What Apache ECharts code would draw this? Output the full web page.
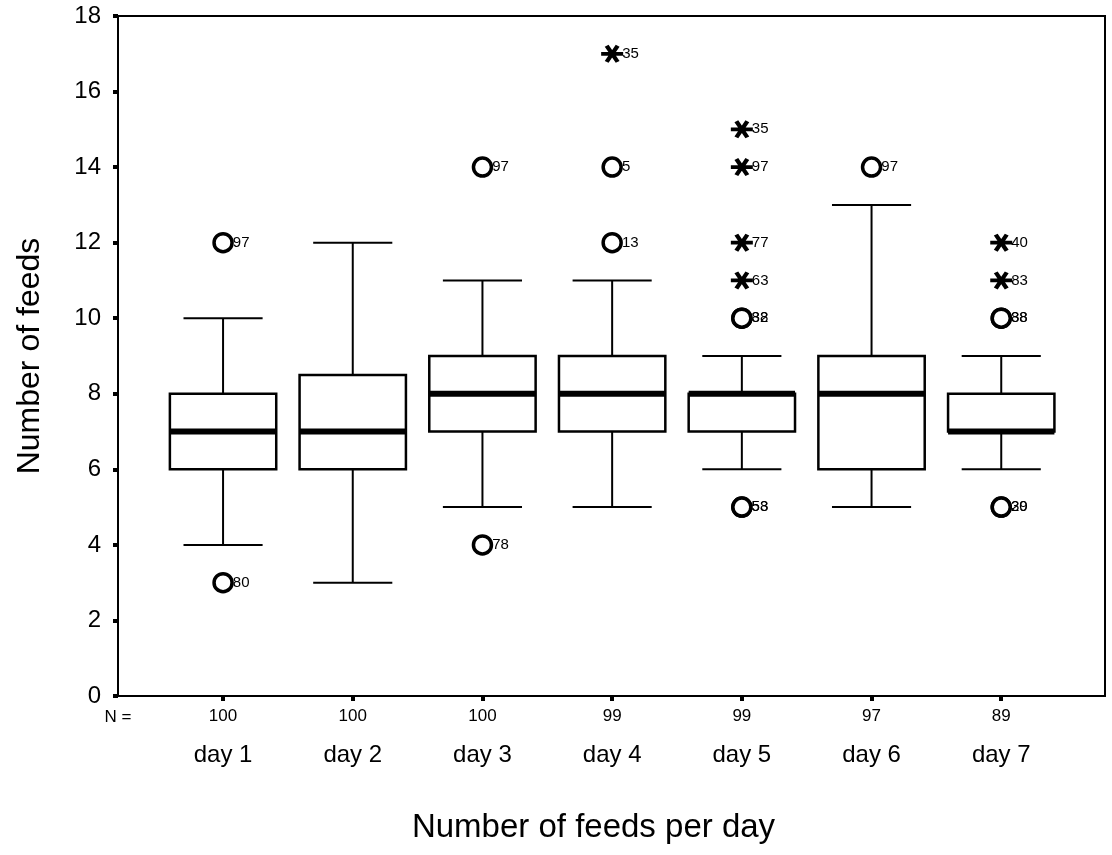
<!DOCTYPE html>
<html>
<head>
<meta charset="utf-8">
<script src="https://cdn.jsdelivr.net/npm/echarts@6/dist/echarts.min.js"></script>
<style>
html,body{margin:0;padding:0;background:#fff;}
#chart{width:1112px;height:855px;}
</style>
</head>
<body>
<div id="chart"></div>
<script>
// ---- data ----
const days = ['day 1', 'day 2', 'day 3', 'day 4', 'day 5', 'day 6', 'day 7'];
const nValues = [100, 100, 100, 99, 99, 97, 89];
const boxMin = [4, 3, 5, 5, 6, 5, 6];
const boxQ1 = [6, 6, 7, 7, 7, 6, 7];
const boxMedian = [7, 7, 8, 8, 8, 8, 7];
const boxQ3 = [8, 8.5, 9, 9, 8, 9, 8];
const boxMax = [10, 12, 11, 11, 9, 13, 9];
// outliers (circles): day index (1-based), value, case label
const circleDay = [1, 1, 3, 3, 4, 4, 5, 5, 5, 5, 6, 7, 7, 7, 7];
const circleValue = [12, 3, 14, 4, 14, 12, 10, 10, 5, 5, 14, 10, 10, 5, 5];
const circleCase = ['97', '80', '97', '78', '5', '13', '32', '88', '58', '53', '97', '38', '88', '20', '39'];
// extremes (asterisks)
const starDay = [4, 5, 5, 5, 5, 7, 7];
const starValue = [17, 15, 14, 12, 11, 12, 11];
const starCase = ['35', '35', '97', '77', '63', '40', '83'];
const yTicks = [0, 2, 4, 6, 8, 10, 12, 14, 16, 18];

const FONT = 'Liberation Sans, Arial, sans-serif';
const chart = echarts.init(document.getElementById('chart'));

const boxData = days.map((d, i) => [i + 1, boxMin[i], boxQ1[i], boxMedian[i], boxQ3[i], boxMax[i]]);
const circleData = circleDay.map((d, i) => [d, circleValue[i], circleCase[i]]);
const starData = starDay.map((d, i) => [d, starValue[i], starCase[i]]);
const dayPos = days.map((d, i) => i + 1);

const asteriskPath = 'path://M0 8 L20 8 L20 12 L0 12 Z M3.27 2.34 L6.73 0.34 L16.73 17.66 L13.27 19.66 Z M13.27 0.34 L16.73 2.34 L6.73 19.66 L3.27 17.66 Z';

const outLabel = {
  show: true, position: 'right', distance: -1,
  formatter: p => p.data[2],
  color: '#000', fontFamily: FONT, fontSize: 15
};

const option = {
  backgroundColor: '#fff',
  animation: false,
  grid: { left: 118, right: 7, top: 16, bottom: 159, show: true, borderColor: '#000', borderWidth: 2, backgroundColor: 'transparent' },
  xAxis: {
    type: 'value', min: 0.19, max: 7.8,
    name: 'Number of feeds per day', nameLocation: 'middle', nameGap: 115,
    nameTextStyle: { fontFamily: FONT, fontSize: 33, color: '#000', padding: [0, 36, 0, 0] },
    axisLine: { show: true, lineStyle: { color: '#000', width: 2 } },
    axisTick: { show: true, customValues: dayPos, length: 5, lineStyle: { color: '#000', width: 4 } },
    splitLine: { show: false },
    axisLabel: {
      customValues: dayPos, margin: 9,
      formatter: v => { const i = Math.round(v) - 1; return '{n|' + nValues[i] + '}\n{d|' + days[i] + '}'; },
      rich: {
        n: { fontFamily: FONT, fontSize: 17, lineHeight: 22, color: '#000' },
        d: { fontFamily: FONT, fontSize: 24, lineHeight: 56, color: '#000' }
      }
    }
  },
  yAxis: {
    type: 'value', min: 0, max: 18, interval: 2,
    name: 'Number of feeds', nameLocation: 'middle', nameGap: 72,
    nameTextStyle: { fontFamily: FONT, fontSize: 32, color: '#000' },
    axisLine: { show: true, lineStyle: { color: '#000', width: 2 } },
    axisTick: { show: true, length: 5, lineStyle: { color: '#000', width: 4 } },
    splitLine: { show: false },
    axisLabel: { margin: 17, fontFamily: FONT, fontSize: 24, color: '#000',
      formatter: v => yTicks.indexOf(v) >= 0 ? String(v) : '' }
  },
  series: [
    {
      type: 'custom',
      data: boxData,
      encode: { x: 0, y: [1, 2, 3, 4, 5] },
      z: 2,
      renderItem: function (params, api) {
        const x = api.value(0);
        const lo = api.coord([x, api.value(1)]);
        const q1 = api.coord([x, api.value(2)]);
        const med = api.coord([x, api.value(3)]);
        const q3 = api.coord([x, api.value(4)]);
        const hi = api.coord([x, api.value(5)]);
        const cx = lo[0];
        const hw = api.size([0.41, 0])[0];
        const cw = api.size([0.305, 0])[0];
        const st = { stroke: '#000', lineWidth: 2 };
        return {
          type: 'group',
          children: [
            { type: 'line', shape: { x1: cx, y1: q3[1], x2: cx, y2: hi[1] }, style: st },
            { type: 'line', shape: { x1: cx, y1: q1[1], x2: cx, y2: lo[1] }, style: st },
            { type: 'line', shape: { x1: cx - cw, y1: hi[1], x2: cx + cw, y2: hi[1] }, style: st },
            { type: 'line', shape: { x1: cx - cw, y1: lo[1], x2: cx + cw, y2: lo[1] }, style: st },
            { type: 'rect', shape: { x: cx - hw, y: q3[1], width: 2 * hw, height: q1[1] - q3[1] },
              style: { fill: '#fff', stroke: '#000', lineWidth: 2.5 } },
            { type: 'line', shape: { x1: cx - hw, y1: med[1], x2: cx + hw, y2: med[1] },
              style: { stroke: '#000', lineWidth: 6 } }
          ]
        };
      }
    },
    {
      type: 'scatter', data: circleData, z: 5,
      symbol: 'circle', symbolSize: 18,
      itemStyle: { color: '#fff', borderColor: '#000', borderWidth: 3.5, opacity: 1 },
      label: outLabel
    },
    {
      type: 'scatter', data: starData, z: 5,
      symbol: asteriskPath, symbolSize: [22, 18],
      itemStyle: { color: '#000', opacity: 1 },
      label: outLabel
    }
  ]
};
chart.setOption(option);
const origin = chart.convertToPixel({ gridIndex: 0 }, [0.19, 0]);
chart.setOption({
  graphic: [{
    type: 'text', x: origin[0], y: origin[1] + 21,
    style: { text: 'N =', fontFamily: FONT, fontSize: 17, fill: '#000', align: 'center', verticalAlign: 'middle' }
  }]
});
</script>
</body>
</html>
